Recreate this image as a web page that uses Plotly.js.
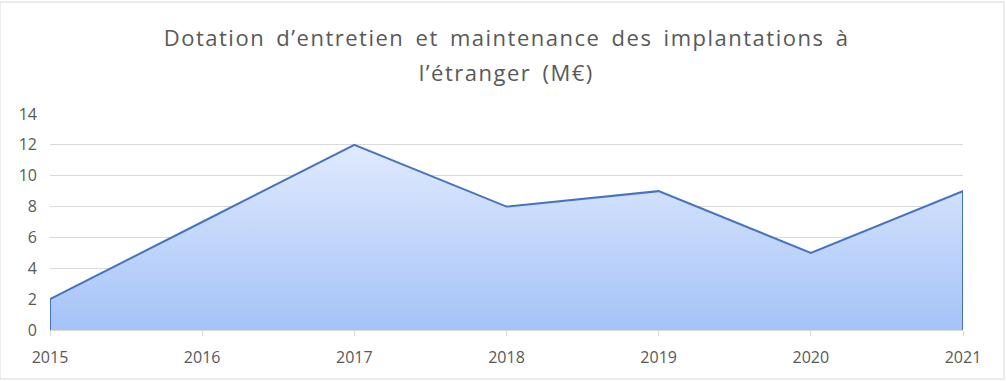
<!DOCTYPE html>
<html>
<head>
<meta charset="utf-8">
<script src="https://cdn.plot.ly/plotly-3.0.1.min.js"></script>
<style>
html,body{margin:0;padding:0;background:#fff;}
#chart{width:1006px;height:381px;}
#chart .annotation-text{letter-spacing:1.5px;word-spacing:4px;}
</style>
</head>
<body>
<div id="chart"></div>
<script>
const years = [2015, 2016, 2017, 2018, 2019, 2020, 2021];
const values = [2, 7, 12, 8, 9, 5, 9];
const titleLines = ["Dotation d\u2019entretien et maintenance des implantations \u00e0", "l\u2019\u00e9tranger (M\u20ac)"];
const yTicks = [0, 2, 4, 6, 8, 10, 12, 14];

// outline including vertical edges down to the baseline
const xs = [years[0]].concat(years, [years[years.length - 1]]);
const ys = [0].concat(values, [0]);

const trace = {
  x: xs,
  y: ys,
  type: 'scatter',
  mode: 'lines',
  line: {color: '#4773be', width: 2},
  fill: 'tozeroy',
  fillgradient: {
    type: 'vertical',
    start: 0,
    stop: 12,
    colorscale: [[0, '#a4c3f8'], [1, '#e0eafd']]
  },
  hoverinfo: 'x+y'
};

const gray = '#595959';
const layout = {
  width: 1006,
  height: 381,
  margin: {l: 50, r: 43, t: 114, b: 51},
  paper_bgcolor: '#ffffff',
  plot_bgcolor: '#ffffff',
  showlegend: false,
  font: {family: 'Open Sans, sans-serif', color: gray, size: 16},
  xaxis: {
    range: [years[0], years[years.length - 1]],
    tickvals: years,
    ticktext: years.map(String),
    showgrid: false,
    zeroline: false,
    showline: true,
    linecolor: '#d9d9d9',
    linewidth: 1,
    ticks: 'outside',
    ticklen: 5,
    tickcolor: '#d9d9d9',
    ticklabelstandoff: 8,
    tickfont: {size: 16, color: gray},
    fixedrange: true
  },
  yaxis: {
    range: [0, 14],
    tickvals: yTicks,
    showgrid: true,
    gridcolor: '#d9d9d9',
    gridwidth: 1,
    zeroline: false,
    showline: false,
    ticks: '',
    ticklen: 0,
    ticklabelstandoff: 12,
    tickfont: {size: 16, color: gray},
    fixedrange: true
  },
  annotations: [
    {text: titleLines[0], xref: 'paper', yref: 'paper', x: 0.5, y: 1, xanchor: 'center', yanchor: 'middle', yshift: 330 - 37 - 216, showarrow: false, font: {size: 22, color: gray, family: 'Open Sans, sans-serif'}},
    {text: titleLines[1], xref: 'paper', yref: 'paper', x: 0.5, y: 1, xanchor: 'center', yanchor: 'middle', yshift: 330 - 72 - 216, showarrow: false, font: {size: 22, color: gray, family: 'Open Sans, sans-serif'}}
  ],
  shapes: [
    {type: 'rect', xref: 'paper', yref: 'paper', x0: -50/913, x1: 1 + 41/913, y0: -49/216, y1: 1 + 112/216, line: {color: '#d9d9d9', width: 1}}
  ]
};

Plotly.newPlot('chart', [trace], layout, {displayModeBar: false, staticPlot: true});
</script>
</body>
</html>
